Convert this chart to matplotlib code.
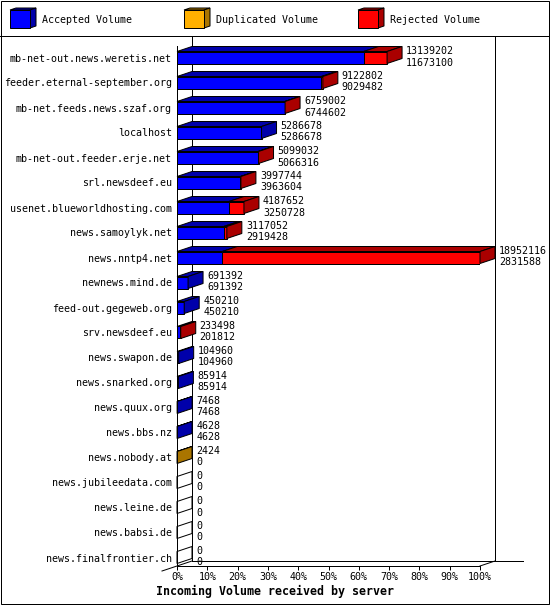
import numpy as np
import matplotlib
matplotlib.use("Agg")
import matplotlib.pyplot as plt
from matplotlib.patches import Polygon, Rectangle

plt.rcParams['font.family'] = ['DejaVu Sans Mono']

servers = [
    "mb-net-out.news.weretis.net", "feeder.eternal-september.org",
    "mb-net.feeds.news.szaf.org", "localhost", "mb-net-out.feeder.erje.net",
    "srl.newsdeef.eu", "usenet.blueworldhosting.com", "news.samoylyk.net",
    "news.nntp4.net", "newnews.mind.de", "feed-out.gegeweb.org",
    "srv.newsdeef.eu", "news.swapon.de", "news.snarked.org", "news.quux.org",
    "news.bbs.nz", "news.nobody.at", "news.jubileedata.com", "news.leine.de",
    "news.babsi.de", "news.finalfrontier.ch",
]
total = [13139202, 9122802, 6759002, 5286678, 5099032, 3997744, 4187652,
         3117052, 18952116, 691392, 450210, 233498, 104960, 85914, 7468,
         4628, 2424, 0, 0, 0, 0]
accepted = [11673100, 9029482, 6744602, 5286678, 5066316, 3963604, 3250728,
            2919428, 2831588, 691392, 450210, 201812, 104960, 85914, 7468,
            4628, 0, 0, 0, 0, 0]
duplicated = [0, 0, 0, 0, 0, 0, 0, 0, 0, 0, 0, 0, 0, 0, 0, 0, 2424, 0, 0, 0, 0]

series_names = ["Accepted Volume", "Duplicated Volume", "Rejected Volume"]
front_colors = ["#0000ff", "#ffb000", "#ff0000"]
dark_colors = ["#0000aa", "#aa7500", "#aa0000"]

W, H = 550, 605
DPI = 100
PX_PER_PCT = 3.03
PX_PER_ROW = 25.0
ROW0_PX = 57.5
DX = 15 / PX_PER_PCT          # depth in percent units
DY = 5 / PX_PER_ROW           # depth in row units
BAR_H = 12 / PX_PER_ROW
FS = 7.2
LW = 0.72


def row_of(px):
    return (px - ROW0_PX) / PX_PER_ROW


def main():
    tot = np.array(total, dtype=float)
    acc = np.array(accepted, dtype=float)
    dup = np.array(duplicated, dtype=float)
    rej = tot - acc - dup
    vmax = tot.max()

    fig = plt.figure(figsize=(W / DPI, H / DPI), dpi=DPI)

    # frame / legend layer in pixel coords
    bg = fig.add_axes([0, 0, 1, 1])
    bg.set_xlim(0, W)
    bg.set_ylim(H, 0)
    bg.axis('off')
    bg.add_patch(Rectangle((0.5, 0.5), W - 1.5, H - 1.5, fill=False, lw=LW, ec='black'))
    bg.plot([0, W], [35.5, 35.5], color='black', lw=LW)

    leg_x = [10, 184, 358]
    for lx, name, fc, dc in zip(leg_x, series_names, front_colors, dark_colors):
        bg.add_patch(Polygon([(lx, 10), (lx + 6, 8), (lx + 26, 8), (lx + 20, 10)],
                             closed=True, fc=dc, ec='black', lw=LW))
        bg.add_patch(Polygon([(lx + 20, 10), (lx + 26, 8), (lx + 26, 26), (lx + 20, 28)],
                             closed=True, fc=dc, ec='black', lw=LW))
        bg.add_patch(Rectangle((lx, 10), 20, 18, fc=fc, ec='black', lw=LW))
        bg.text(lx + 32, 20, name, fontsize=FS, va='center', ha='left')

    # chart axes = front plane
    top_px, bot_px = 46, 566
    ax = fig.add_axes([177 / W, 1 - bot_px / H, 303 / W, (bot_px - top_px) / H])
    ax.set_xlim(0, 100)
    ax.set_ylim(row_of(bot_px), row_of(top_px))
    ax.patch.set_alpha(0)
    for s in ['top', 'right']:
        ax.spines[s].set_visible(False)
    ax.spines['left'].set_linewidth(LW)
    ax.spines['bottom'].set_linewidth(LW)

    y_floor = row_of(bot_px)
    y_back = y_floor - DY
    y_wall_top = row_of(36)
    line_kw = dict(color='black', lw=LW, clip_on=False, zorder=0.5)
    ax.plot([DX, DX], [y_wall_top, y_back], **line_kw)
    ax.plot([100 + DX, 100 + DX], [y_wall_top, y_back], **line_kw)
    ax.plot([DX, (523 - 177) / PX_PER_PCT], [y_back, y_back], **line_kw)
    ax.plot([100, 100 + DX], [y_floor, y_back], **line_kw)
    ax.plot([-DX, DX], [y_floor + DY, y_back], **line_kw)

    rows = np.arange(len(servers))
    parts = np.vstack([acc, dup, rej]) / vmax * 100

    for i in rows:
        top = i - BAR_H / 2
        start = 0.0
        last_dark = None
        for k in range(3):
            w = parts[k, i]
            if w <= 0:
                continue
            ax.barh(i, w, left=start, height=BAR_H, color=front_colors[k],
                    edgecolor='black', linewidth=LW, zorder=2)
            ax.add_patch(Polygon([(start, top), (start + w, top),
                                  (start + w + DX, top - DY), (start + DX, top - DY)],
                                 closed=True, fc=dark_colors[k], ec='black',
                                 lw=LW, zorder=2, clip_on=False))
            start += w
            last_dark = dark_colors[k]
        end = start
        ax.add_patch(Polygon([(end, top), (end, top + BAR_H),
                              (end + DX, top + BAR_H - DY), (end + DX, top - DY)],
                             closed=True, fc=last_dark if last_dark else 'white',
                             ec='black', lw=LW, zorder=2, clip_on=False))
        tx = end + DX + 4 / PX_PER_PCT
        ax.text(tx, i - 0.27, f"{int(tot[i])}", fontsize=FS, va='center',
                ha='left', clip_on=False)
        ax.text(tx, i + 0.2, f"{int(acc[i])}", fontsize=FS, va='center',
                ha='left', clip_on=False)

    ax.set_yticks(rows)
    ax.set_yticklabels(servers, fontsize=FS)
    ax.tick_params(axis='y', length=0, pad=3.6)
    ticks = list(range(0, 101, 10))
    ax.set_xticks(ticks)
    ax.set_xticklabels([f"{t}%" for t in ticks], fontsize=FS)
    ax.tick_params(axis='x', length=3, width=LW, direction='out', pad=1.5)

    fig.text(0.5, 1 - 591 / H, "Incoming Volume received by server",
             fontsize=8.4, fontweight='bold', ha='center', va='center')

    fig.savefig("out.png", dpi=DPI)


if __name__ == "__main__":
    main()
